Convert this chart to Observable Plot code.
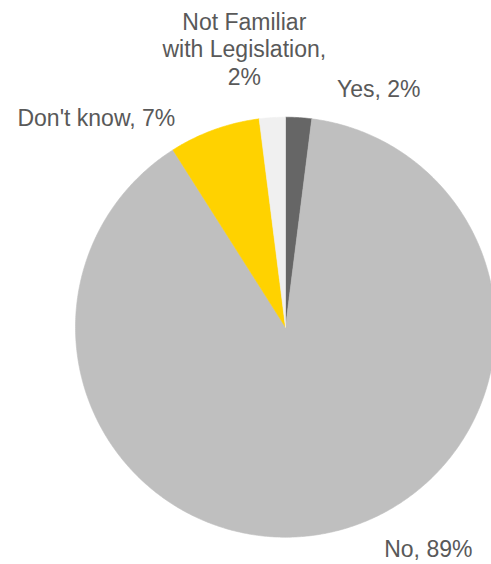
<!DOCTYPE html>
<html>
<head>
<meta charset="utf-8">
<script src="https://cdn.jsdelivr.net/npm/d3@7"></script>
<script src="https://cdn.jsdelivr.net/npm/@observablehq/plot@0.6"></script>
<style>
  html, body { margin: 0; padding: 0; background: #fff; overflow: hidden; }
  #chart svg { display: block; }
</style>
</head>
<body>
<div id="chart"></div>
<script>
// Data
const categories = ["Yes", "No", "Don't know", "Not Familiar with Legislation"];
const values = [2, 89, 7, 2];
const labelTexts = ["Yes, 2%", "No, 89%", "Don't know, 7%", "Not Familiar\nwith Legislation,\n2%"];
const colors = ["#666666", "#bfbfbf", "#ffd200", "#f0f0f0"];

// Layout (pixel geometry of the pie)
const W = 491, H = 564;
const cx = 285, cy = 326.7, R = 210;
const labelDx = [80, 97, -118, -28];
const labelDy = [-29, 16, -12, -69];

const table = categories.map((c, i) => ({category: c, value: values[i], label: labelTexts[i]}));
const arcs = d3.pie().sort(null).value(d => d.value)(table);

// Outline of each slice in unit coordinates (angle 0 at 12 o'clock, clockwise)
const outline = [];
arcs.forEach(a => {
  const k = a.data.category;
  outline.push({category: k, x: 0, y: 0});
  const steps = Math.max(2, Math.ceil((a.endAngle - a.startAngle) / (Math.PI / 360)));
  for (let s = 0; s <= steps; s++) {
    const t = a.startAngle + (a.endAngle - a.startAngle) * s / steps;
    outline.push({category: k, x: Math.sin(t), y: Math.cos(t)});
  }
  outline.push({category: k, x: 0, y: 0});
});

const anchors = arcs.map(a => {
  const m = (a.startAngle + a.endAngle) / 2;
  return {label: a.data.label, x: Math.sin(m), y: Math.cos(m)};
});

const chart = Plot.plot({
  width: W,
  height: H,
  margin: 0,
  x: {domain: [-cx / R, (W - cx) / R], axis: null},
  y: {domain: [(cy - H) / R, cy / R], axis: null},
  color: {domain: categories, range: colors},
  style: {fontFamily: "'Liberation Sans', Arial, sans-serif", background: "#fff"},
  marks: [
    Plot.line(outline, {x: "x", y: "y", z: "category", fill: "category", stroke: "category", strokeWidth: 0.6, curve: "linear"}),
    ...anchors.map((d, i) => Plot.text([d], {
      x: "x", y: "y", text: "label",
      dx: labelDx[i], dy: labelDy[i],
      textAnchor: "middle", lineAnchor: "middle", lineHeight: 1.2,
      fontSize: 23, fill: "#595959"
    }))
  ]
});
document.getElementById("chart").appendChild(chart);
</script>
</body>
</html>
